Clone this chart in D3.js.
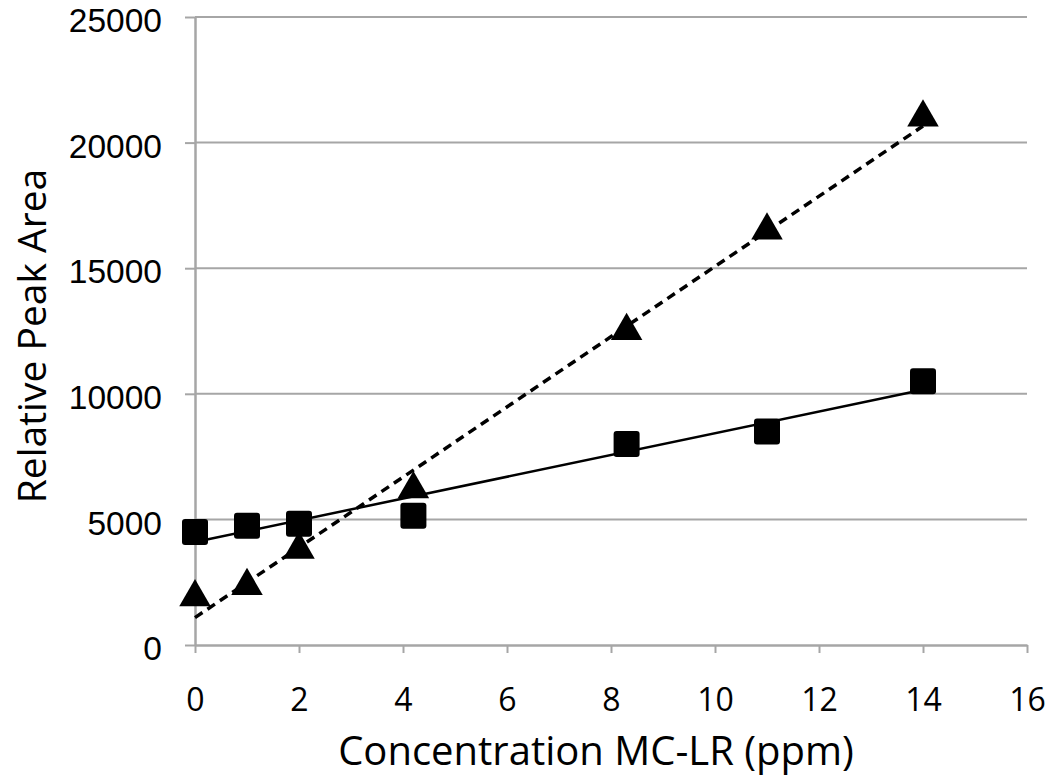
<!DOCTYPE html>
<html><head><meta charset="utf-8">
<script src="https://cdn.jsdelivr.net/npm/d3@7"></script>
<style>body{margin:0;background:#fff}</style>
</head><body>
<svg id="c" width="1050" height="776"></svg>
<script>
const xTicks = [0,2,4,6,8,10,12,14,16];
const yTicks = [0,5000,10000,15000,20000,25000];
const concentrations = [0,1,2,4.2,8.3,11,14];
const squareValues = [4500,4750,4830,5150,8000,8500,10500];
const triangleValues = [1900,2350,3800,6200,12500,16500,21000];
const xLabel = "Concentration MC-LR (ppm)";
const yLabel = "Relative Peak Area";

const svg = d3.select("#c");
const L = 195, R = 1027, T = 17, B = 645;
const x = d3.scaleLinear().domain([0,16]).range([L,R]);
const y = d3.scaleLinear().domain([0,25000]).range([B,T]);
const gridCol = "#a6a6a6";

// gridlines
svg.append("g").selectAll("line").data(yTicks.filter(d=>d>0)).join("line")
  .attr("x1",L).attr("x2",R).attr("y1",d=>y(d)).attr("y2",d=>y(d))
  .attr("stroke",gridCol).attr("stroke-width",2);

// y axis
const ya = svg.append("g").attr("transform",`translate(${L},0)`)
  .call(d3.axisLeft(y).tickValues(yTicks).tickSize(10).tickSizeOuter(0).tickPadding(23).tickFormat(d3.format("d")));
ya.select(".domain").attr("stroke",gridCol).attr("stroke-width",2.5);
ya.selectAll(".tick line").attr("stroke",gridCol).attr("stroke-width",2);
ya.selectAll("text").attr("font-family","Liberation Sans, Arial").attr("font-size",33.5)
  .attr("dy","0.44em").attr("fill","#000");

// x axis
const xa = svg.append("g").attr("transform",`translate(0,${B})`)
  .call(d3.axisBottom(x).tickValues(xTicks).tickSize(8).tickSizeOuter(0).tickPadding(35));
xa.select(".domain").attr("stroke",gridCol).attr("stroke-width",2.5);
xa.selectAll(".tick line").attr("stroke",gridCol).attr("stroke-width",2);
xa.selectAll("text").attr("font-family","Open Sans").attr("font-size",32).attr("font-weight",500).attr("fill","#000");

// regression
function fit(xs, ys){
  const mx=d3.mean(xs), my=d3.mean(ys);
  const b=d3.sum(xs,(v,i)=>(v-mx)*(ys[i]-my))/d3.sum(xs,v=>(v-mx)**2);
  return [b, my-b*mx];
}
const xmin=d3.min(concentrations), xmax=d3.max(concentrations);
[[squareValues,null],[triangleValues,"9,6"]].forEach(([vals,dash])=>{
  const [b,a]=fit(concentrations,vals);
  svg.append("line").attr("x1",x(xmin)).attr("x2",x(xmax))
    .attr("y1",y(a+b*xmin)).attr("y2",y(a+b*xmax))
    .attr("stroke","#000").attr("stroke-width",dash?3.5:2.5)
    .attr("stroke-dasharray",dash);
});

// markers
const pts = concentrations.map((c,i)=>({c,s:squareValues[i],t:triangleValues[i]}));
svg.append("g").selectAll("rect").data(pts).join("rect")
  .attr("x",d=>x(d.c)-13).attr("y",d=>y(d.s)-13)
  .attr("width",26).attr("height",26).attr("rx",3).attr("fill","#000");
const tri = d3.symbol().type(d3.symbolTriangle).size(430);
svg.append("g").selectAll("path").data(pts).join("path")
  .attr("d",tri).attr("transform",d=>`translate(${x(d.c)},${y(d.t)})`).attr("fill","#000");

// labels
svg.append("text").attr("x",596).attr("y",765).attr("text-anchor","middle")
  .attr("font-family","Open Sans").attr("font-size",40).attr("fill","#000").text(xLabel);
svg.append("text").attr("transform","translate(46,336) rotate(-90)").attr("text-anchor","middle")
  .attr("font-family","Open Sans").attr("font-size",39).attr("fill","#000").text(yLabel);
</script>
</body></html>
